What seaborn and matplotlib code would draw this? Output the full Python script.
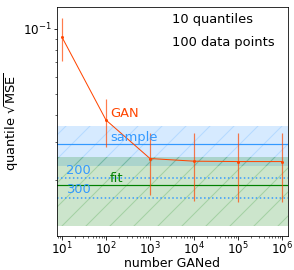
import numpy as np
import pandas as pd
import matplotlib
matplotlib.use("Agg")
import matplotlib.pyplot as plt
import seaborn as sns

# values
n_gan = [1e1, 1e2, 1e3, 1e4, 1e5, 1e6]
gan_mse = [0.0914, 0.0378, 0.0251, 0.0244, 0.0243, 0.0243]
gan_err = [0.0206, 0.0093, 0.0080, 0.0085, 0.0085, 0.0085]

sample_mse = 0.0294
sample_err = 0.0061
fit_mse = 0.0189
fit_err = 0.0066
sample_200 = 0.0204
sample_300 = 0.0165

df = pd.DataFrame({"n": n_gan, "mse": gan_mse})

fig = plt.figure(figsize=(294 / 72, 270 / 72), dpi=72)
ax = fig.add_axes([57 / 294, 34 / 270, 231 / 294, 229 / 270])

red = "#ff4500"
blue = "#3399ff"
green = "green"

# bands
ax.axhspan(sample_mse - sample_err, sample_mse + sample_err,
           facecolor=blue, alpha=0.2, edgecolor=blue, hatch="/", lw=0)
ax.axhspan(fit_mse - fit_err, fit_mse + fit_err,
           facecolor=green, alpha=0.2, edgecolor=green, hatch="/", lw=0)
ax.axhline(sample_mse, color=blue, lw=1.2)
ax.axhline(fit_mse, color=green, lw=1.2)
ax.axhline(sample_200, color=blue, lw=1.5, ls=":")
ax.axhline(sample_300, color=blue, lw=1.5, ls=":")

# GAN curve
ax.errorbar(n_gan, gan_mse, yerr=gan_err, fmt="none", ecolor=red,
            elinewidth=1.2, alpha=0.7)
sns.lineplot(data=df, x="n", y="mse", ax=ax, color=red, lw=1,
             marker="o", markersize=3, markeredgewidth=0)

ax.set_xscale("log")
ax.set_yscale("log")
ax.set_xlim(7.7, 1.37e6)
ax.set_ylim(0.011, 0.126)

ax.text(123, 0.0407, "GAN", color=red, fontsize=13, va="center")
ax.text(123, 0.0313, "sample", color=blue, fontsize=13, va="center")
ax.text(123, 0.0202, "fit", color=green, fontsize=13, va="center")
ax.text(12.3, 0.0221, "200", color=blue, fontsize=13, va="center")
ax.text(12.3, 0.0180, "300", color=blue, fontsize=13, va="center")
ax.text(0.5, 0.945, "10 quantiles", transform=ax.transAxes, fontsize=13, va="center")
ax.text(0.5, 0.845, "100 data points", transform=ax.transAxes, fontsize=13, va="center")

ax.set_xlabel("number GANed", fontsize=12.5, labelpad=-1)
ax.set_ylabel(r"quantile $\sqrt{\rm MSE}$", fontsize=13, labelpad=2)
ax.tick_params(which="major", length=3.5, labelsize=12, pad=1.5)
ax.tick_params(which="minor", length=2)

fig.savefig("out.png", dpi=72)
